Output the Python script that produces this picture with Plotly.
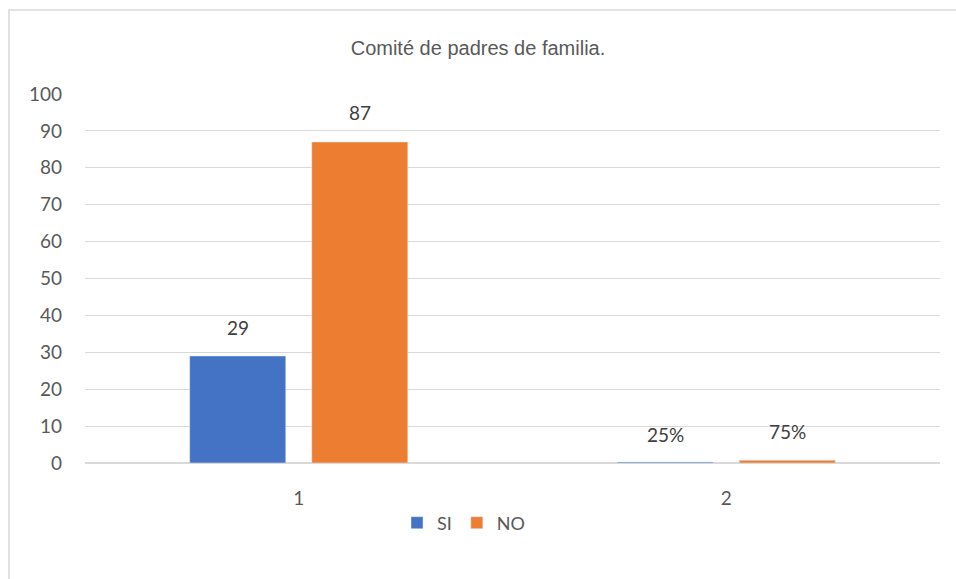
import plotly.graph_objects as go

categories = ["1", "2"]
si_values = [29, 0.25]
no_values = [87, 0.75]
si_labels = ["29", "25%"]
no_labels = ["87", "75%"]
y_ticks = [0, 10, 20, 30, 40, 50, 60, 70, 80, 90, 100]

font_main = "Lato, 'Noto Sans', sans-serif"
txt_color = "#595959"
label_color = "#404040"

fig = go.Figure()
fig.add_trace(go.Bar(name="SI", x=categories, y=si_values, marker_color="#4472C4"))
fig.add_trace(go.Bar(name="NO", x=categories, y=no_values, marker_color="#ED7D31"))

annotations = []
for i, (v, lab) in enumerate(zip(si_values, si_labels)):
    annotations.append(dict(x=i, y=v, xref="x", yref="y", text=lab, showarrow=False,
                            xshift=-61, yshift=28, yanchor="middle",
                            font=dict(size=19, color=label_color, family=font_main)))
for i, (v, lab) in enumerate(zip(no_values, no_labels)):
    annotations.append(dict(x=i, y=v, xref="x", yref="y", text=lab, showarrow=False,
                            xshift=61, yshift=29, yanchor="middle",
                            font=dict(size=19, color=label_color, family=font_main)))

fig.update_layout(
    width=956, height=579,
    margin=dict(l=85, r=16, t=94, b=116),
    paper_bgcolor="white", plot_bgcolor="white",
    barmode="group", bargap=0.429, bargroupgap=0.213,
    title=dict(text="Comité de padres de familia.", x=0.5, xanchor="center",
               y=1 - 48 / 579, yanchor="middle",
               font=dict(family="'Liberation Sans Narrow', 'Liberation Sans', Arial, sans-serif",
                         size=20, color=txt_color)),
    font=dict(family=font_main, size=19, color=txt_color),
    showlegend=True,
    legend=dict(orientation="h", x=0.5 - 49 / 855, xanchor="center", y=-(523 - 463) / 369,
                yanchor="middle", font=dict(size=18, color=txt_color),
                itemwidth=30, traceorder="normal"),
    xaxis=dict(type="category", range=[-0.5, 1.5], showgrid=False, showline=False,
               ticks="", ticklabelstandoff=22, tickfont=dict(size=19, color=txt_color)),
    yaxis=dict(range=[0, 100], tickvals=y_ticks, showgrid=True, gridcolor="#d9d9d9",
               gridwidth=1, zeroline=True, zerolinecolor="#d9d9d9", showline=False,
               ticks="", ticklabelstandoff=22, tickfont=dict(size=19, color=txt_color)),
    annotations=annotations,
    shapes=[dict(type="rect", xref="paper", yref="paper",
                 x0=(9 - 85) / 855, x1=1.2, y0=-1.0, y1=(463 - 10) / 369,
                 line=dict(color="#d9d9d9", width=1.5), fillcolor="rgba(0,0,0,0)",
                 layer="below")],
)

fig.write_html("out.html", config={"displayModeBar": False},
               post_script="document.body.style.margin='0';document.body.style.padding='0';")
